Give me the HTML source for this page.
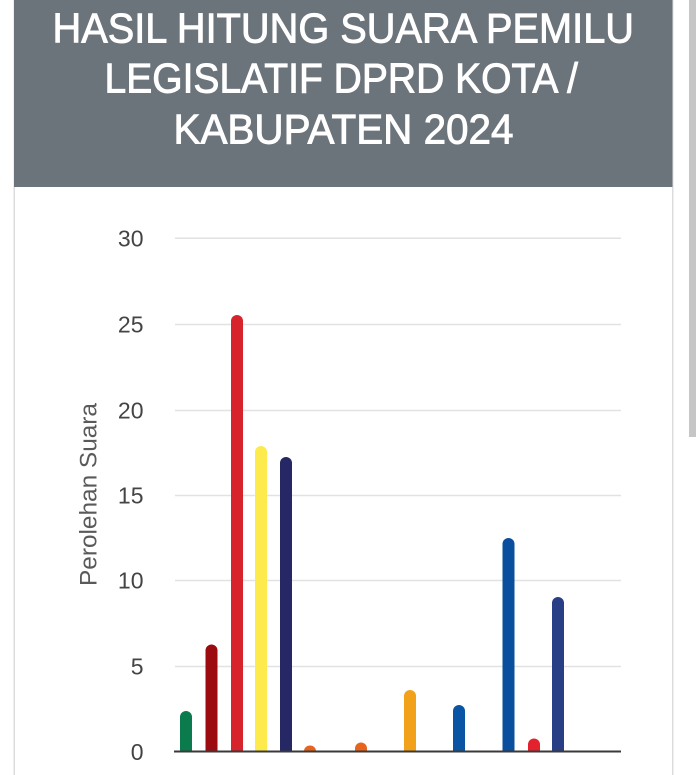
<!DOCTYPE html>
<html>
<head>
<meta charset="utf-8">
<style>
html,body{margin:0;padding:0;background:#fff;}
body{width:696px;height:775px;overflow:hidden;}
svg{display:block;}
</style>
</head>
<body>
<svg width="696" height="775" viewBox="0 0 696 775" xmlns="http://www.w3.org/2000/svg">
  <rect x="0" y="0" width="696" height="775" fill="#ffffff"/>
  <!-- card borders -->
  <rect x="13.5" y="0" width="1.5" height="775" fill="#dcdcdc"/>
  <rect x="672" y="0" width="1.5" height="775" fill="#dcdcdc"/>
  <!-- header -->
  <rect x="14" y="0" width="658.5" height="187" fill="#6b737b"/>
  <g fill="#ffffff" stroke="#ffffff" stroke-width="0.9" font-family="'Liberation Sans', sans-serif" font-size="41.5">
    <text x="52.5" y="42.5" textLength="581.5" lengthAdjust="spacingAndGlyphs">HASIL HITUNG SUARA PEMILU</text>
    <text x="104.5" y="92.5" textLength="473.5" lengthAdjust="spacingAndGlyphs">LEGISLATIF DPRD KOTA /</text>
    <text x="173.5" y="143.5" textLength="340" lengthAdjust="spacingAndGlyphs">KABUPATEN 2024</text>
  </g>
  <!-- scrollbar -->
  <rect x="689" y="0" width="7" height="437" fill="#c6c6c6"/>
  <!-- gridlines -->
  <g stroke="#e2e2e2" stroke-width="1.5">
    <line x1="175" y1="238.3" x2="621" y2="238.3"/>
    <line x1="175" y1="324.5" x2="621" y2="324.5"/>
    <line x1="175" y1="410.5" x2="621" y2="410.5"/>
    <line x1="175" y1="495.5" x2="621" y2="495.5"/>
    <line x1="175" y1="580.5" x2="621" y2="580.5"/>
    <line x1="175" y1="666.5" x2="621" y2="666.5"/>
  </g>
  <!-- tick labels -->
  <g fill="#444444" font-family="'Liberation Sans', sans-serif" font-size="23" text-anchor="end">
    <text x="143.5" y="246.5">30</text>
    <text x="143.5" y="332.7">25</text>
    <text x="143.5" y="418.7">20</text>
    <text x="143.5" y="503.7">15</text>
    <text x="143.5" y="588.7">10</text>
    <text x="143.5" y="674.7">5</text>
    <text x="143.5" y="760">0</text>
  </g>
  <!-- y title -->
  <text transform="translate(96.5,494.5) rotate(-90)" text-anchor="middle" fill="#5a5a5a" font-family="'Liberation Sans', sans-serif" font-size="24" textLength="183" lengthAdjust="spacingAndGlyphs">Perolehan Suara</text>
  <!-- bars -->
  <g>
    <path d="M180,751 L180,717 A6,6 0 0 1 192,717 L192,751 Z" fill="#0b7a4c"/>
    <path d="M205.5,751 L205.5,650.5 A6,6 0 0 1 217.5,650.5 L217.5,751 Z" fill="#9c0b10"/>
    <path d="M231,751 L231,321 A6,6 0 0 1 243,321 L243,751 Z" fill="#d6232c"/>
    <path d="M255,751 L255,452 A6,6 0 0 1 267,452 L267,751 Z" fill="#fdeb4e"/>
    <path d="M280,751 L280,463 A6,6 0 0 1 292,463 L292,751 Z" fill="#262866"/>
    <path d="M304,751 A6,5.5 0 0 1 316,751 Z" fill="#e8641c"/>
    <path d="M355,751 L355,748.5 A6,6 0 0 1 367,748.5 L367,751 Z" fill="#e8641c"/>
    <path d="M404,751 L404,696 A6,6 0 0 1 416,696 L416,751 Z" fill="#f2a11a"/>
    <path d="M453,751 L453,711 A6,6 0 0 1 465,711 L465,751 Z" fill="#0a55a3"/>
    <path d="M502.5,751 L502.5,544 A6,6 0 0 1 514.5,544 L514.5,751 Z" fill="#0a4f9e"/>
    <path d="M528,751 L528,744.5 A6,6 0 0 1 540,744.5 L540,751 Z" fill="#e4222e"/>
    <path d="M552,751 L552,603 A6,6 0 0 1 564,603 L564,751 Z" fill="#283f86"/>
  </g>
  <!-- baseline -->
  <line x1="174" y1="751.5" x2="621" y2="751.5" stroke="#3a3a3a" stroke-width="2"/>
</svg>
</body>
</html>
